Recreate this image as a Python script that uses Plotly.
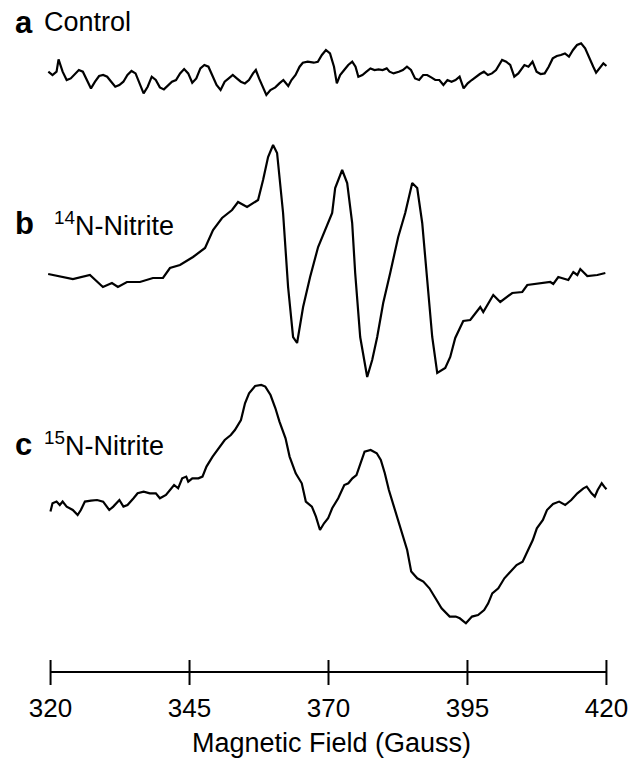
import plotly.graph_objects as go

# ---------------- data ----------------
# Field in Gauss, signal in arbitrary units (relative to each trace's baseline)
field_a = [319.6, 320.35, 321.08, 321.44, 322.17, 322.9, 323.63, 324.36, 325.09, 325.81,
           326.54, 327.27, 328.0, 328.73, 329.46, 330.19, 330.91, 331.64, 332.37, 333.1,
           333.83, 334.56, 335.29, 336.01, 336.74, 337.47, 338.2, 338.93, 339.66, 340.39,
           341.12, 341.84, 342.57, 343.3, 344.03, 344.76, 345.49, 346.22, 346.95, 347.67,
           348.4, 349.13, 349.86, 350.59, 351.32, 352.05, 352.78, 353.5, 354.23, 354.96,
           355.69, 356.42, 356.93, 357.51, 358.24, 358.82, 359.55, 360.43, 361.16, 361.88,
           362.76, 363.34, 364.07, 364.8, 365.38, 366.26, 367.35, 368.08, 368.81, 369.54,
           370.27, 370.99, 371.5, 372.09, 372.82, 373.55, 374.27, 374.86, 375.37, 376.1,
           376.83, 377.55, 378.28, 379.01, 379.74, 380.47, 380.98, 381.71, 382.65, 383.38,
           384.11, 384.84, 385.57, 386.3, 387.03, 387.75, 388.48, 389.21, 389.94, 390.67,
           391.4, 392.13, 392.85, 393.58, 394.31, 395.04, 395.77, 396.5, 397.23, 397.96,
           398.68, 399.41, 400.14, 401.23, 401.96, 402.69, 403.42, 404.15, 405.24, 405.97,
           406.7, 407.43, 408.16, 408.89, 409.61, 410.34, 411.07, 411.8, 412.53, 413.26,
           413.99, 414.71, 415.44, 416.17, 416.9, 417.63, 418.14, 418.72, 419.45, 420.0]
signal_a = [0, -3.3, 0, 12.3, 0, -8.3, -6.7, -2.3, 1.7, 0,
            -8.3, -16.7, -10, -4.3, -3.3, -5, -10, -15, -13.3, -10,
            -3.3, 0.7, -1.7, -11.7, -21.7, -15, -5, -8.3, -15.7, -17.7,
            -13.3, -10, -8.3, -1.7, 2.7, -1.7, -11, -6.7, 3.3, 6.7,
            5, -3.3, -13.3, -18.3, -10, -6.7, -3.3, -6.7, -10, -11.7,
            -8.3, -1.7, 1.7, -6.7, -16.7, -23.3, -18.3, -15.7, -11.7, -8.3,
            -14.3, -8.3, -3.3, 5, 9, 10, 9, 10, 16.7, 21.7,
            18.3, 5, -11.7, -3.3, 1.7, 6.7, 10, 5, -5, -3.3,
            0, 3.3, 1.7, 2.3, 1.7, 3.3, 0, -1.7, 0, 1.7,
            5, 1.7, -6.7, -8.3, -3.3, -3.3, -5.7, -8.3, -8.3, -13.3,
            -8.3, -10, -8.3, -5, -16.7, -11.7, -8.3, -5, -2.3, 0,
            -3.3, -1.7, 1.7, 11.7, 10, 6.7, -5, -1.7, 6.7, 5,
            10, 0, -2.3, -1.7, 5, 13.3, 15.7, 16.7, 18.3, 15,
            21.7, 26.7, 28.3, 23.3, 13.3, 5, -1, 3.3, 8.3, 5.7]

field_b = [319.57, 324.02, 327.08, 329.42, 331.04, 332.12, 333.74, 336.08, 338.42, 340.22,
           341.48, 343.28, 345.63, 347.79, 349.23, 350.85, 352.65, 353.73, 355.35, 357.33,
           358.23, 359.13, 360.03, 360.75, 361.83, 362.73, 363.63, 364.35, 365.43, 366.69,
           368.13, 369.40, 370.66, 371.20, 371.74, 372.46, 373.36, 374.26, 374.80, 375.70,
           376.96, 377.86, 378.76, 379.84, 381.10, 382.54, 383.80, 385.06, 385.96, 386.86,
           387.76, 388.66, 389.56, 391.0, 391.90, 392.80, 394.24, 395.50, 397.30, 397.84,
           399.64, 400.90, 403.06, 404.86, 405.76, 408.10, 409.90, 410.44, 411.34, 413.14,
           414.04, 414.76, 415.30, 416.56, 418.36, 419.80]
signal_b = [1, -4, 0, -12, -8, -12, -7, -7, -3, -3,
            7, 10, 18, 27, 45, 57, 65, 73, 68, 75,
            95, 118, 130, 122, 62, -12, -62, -68, -32, -2,
            28, 45, 62, 87, 95, 105, 92, 52, 2, -62,
            -102, -85, -62, -28, 2, 38, 62, 92, 87, 52,
            -5, -62, -98, -93, -82, -63, -46, -45, -32, -37,
            -20, -27, -18, -17, -10, -8, -7, -9, -2, -5,
            3, 0, 6, -1, 0, 2]

field_c = [319.98, 320.35, 321.08, 321.66, 322.17, 322.9, 324.0, 324.87, 325.45, 326.18,
           327.27, 328.37, 329.46, 330.56, 331.28, 332.38, 333.11, 333.84, 334.93, 335.66,
           336.75, 337.85, 338.94, 339.67, 340.76, 341.49, 342.22, 342.95, 343.68, 344.41,
           344.77, 345.5, 346.6, 347.33, 348.05, 349.15, 350.24, 351.33, 352.43, 353.16,
           354.25, 354.98, 355.71, 356.8, 357.9, 358.63, 359.57, 360.45, 361.18, 362.27,
           363.0, 364.1, 365.19, 365.92, 367.01, 367.74, 368.47, 369.2, 369.93, 370.66,
           371.75, 372.84, 373.57, 374.3, 375.03, 375.76, 376.49, 377.58, 378.68, 379.41,
           380.13, 380.86, 381.96, 383.05, 384.15, 384.88, 385.97, 387.06, 388.16, 389.25,
           390.34, 391.8, 392.89, 393.62, 394.72, 395.81, 396.9, 398.0, 398.73, 399.46,
           400.55, 401.64, 402.74, 403.83, 404.92, 405.65, 406.75, 407.48, 408.57, 409.3,
           410.39, 411.49, 412.58, 413.67, 414.77, 415.86, 416.45, 417.32, 417.91, 418.42,
           419.15, 419.6, 420.0]
signal_c = [-8.3, 0, 1.7, -1.7, 1.7, -3.3, -6.7, -11.7, -6.7, 1.7,
            2.7, 3.3, 1.7, -6.7, -3.3, 3.3, -3.3, -1.7, 5, 10,
            11.7, 10, 10, 5, 8.3, 13.3, 18.3, 15, 25, 26.7,
            21.7, 25, 25, 26.7, 36.7, 46.7, 55, 63.3, 68.3, 73.3,
            83.3, 100, 110, 117.3, 118.3, 116.7, 108.3, 95, 81.7, 65,
            46.7, 30, 20, 1.7, -3.3, -13.3, -26.7, -20, -15, -5,
            5, 18.3, 20, 25, 28.3, 40, 51.7, 53.3, 50, 43.3,
            30, 13.3, -6.7, -26.7, -46.7, -68.3, -75, -78.3, -85, -95,
            -105, -113.3, -113.3, -115, -120, -113.3, -111.7, -106.7, -100, -90,
            -85, -75, -68.3, -61.7, -58.3, -50, -36.7, -25, -16.7, -6.7,
            -0.7, 1.7, -1.7, 3.3, 10, 15, 16.7, 10, 6.7, 13.3,
            20, 16.7, 14]

tick_vals = [320, 345, 370, 395, 420]
tick_text = ["320", "345", "370", "395", "420"]
x_title = "Magnetic Field (Gauss)"
panel_letters = ["a", "b", "c"]
panel_names = ["Control", "<sup>14</sup>N-Nitrite", "<sup>15</sup>N-Nitrite"]

# ---------------- layout constants ----------------
W, H = 631, 767
FONT = "Liberation Sans, Arial, Helvetica, sans-serif"
baselines = [-71.7, -275, -503.3]   # vertical stacking offsets
axis_y = -672
tick_half_up, tick_half_dn = 12, 13

ML, MR, MT, MB = 45.15, 19.45, 0, 77
x_range = [319, 421]
y_range = [-690, 0]
plot_w = W - ML - MR
plot_h = H - MT - MB


def px_to_paper_x(px):
    return (px - ML) / plot_w


def px_to_paper_y(py):
    return (plot_h - (py - MT)) / plot_h


fig = go.Figure()

for f, s, b in [(field_a, signal_a, baselines[0]),
                (field_b, signal_b, baselines[1]),
                (field_c, signal_c, baselines[2])]:
    fig.add_trace(go.Scatter(x=f, y=[b + v for v in s], mode="lines",
                             line=dict(color="black", width=2.2), hoverinfo="skip",
                             showlegend=False))

# axis line with crossing ticks
ax_x = [tick_vals[0], tick_vals[-1]]
ax_y = [axis_y, axis_y]
for t in tick_vals:
    ax_x += [None, t, t]
    ax_y += [None, axis_y + tick_half_up, axis_y - tick_half_dn]
fig.add_trace(go.Scatter(x=ax_x, y=ax_y, mode="lines",
                         line=dict(color="black", width=2), hoverinfo="skip",
                         showlegend=False))

# panel labels
letter_pos = [(13, 23), (13, 224), (13, 444)]
name_pos = [(42, 22), (52, 224), (42, 444)]
for i in range(3):
    fig.add_annotation(x=px_to_paper_x(letter_pos[i][0]), xref="paper",
                       y=px_to_paper_y(letter_pos[i][1]), yref="paper",
                       text="<b>%s</b>" % panel_letters[i], showarrow=False,
                       xanchor="left", yanchor="middle",
                       font=dict(family=FONT, size=31, color="black"))
    fig.add_annotation(x=px_to_paper_x(name_pos[i][0]), xref="paper",
                       y=px_to_paper_y(name_pos[i][1]), yref="paper",
                       text=panel_names[i], showarrow=False,
                       xanchor="left", yanchor="middle",
                       font=dict(family=FONT, size=27, color="black"))

fig.add_annotation(x=px_to_paper_x(331), xref="paper", y=px_to_paper_y(743), yref="paper",
                   text=x_title, showarrow=False, xanchor="center", yanchor="middle",
                   font=dict(family=FONT, size=27, color="black"))

fig.update_layout(
    width=W, height=H,
    margin=dict(l=ML, r=MR, t=MT, b=MB, pad=0),
    paper_bgcolor="white", plot_bgcolor="white",
    xaxis=dict(range=x_range, showgrid=False, zeroline=False, showline=False,
               ticks="", tickvals=tick_vals, ticktext=tick_text,
               tickfont=dict(family=FONT, size=26, color="black"),
               ticklabelstandoff=0),
    yaxis=dict(range=y_range, visible=False, showgrid=False, zeroline=False),
)

fig.write_html("out.html")
